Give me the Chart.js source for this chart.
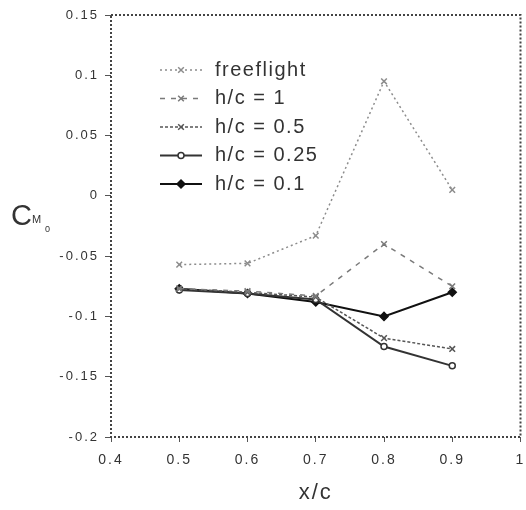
<!DOCTYPE html>
<html><head><meta charset="utf-8">
<style>html,body{margin:0;padding:0;background:#fff}canvas{display:block}</style>
<script src="https://cdn.jsdelivr.net/npm/chart.js@4/dist/chart.umd.min.js"></script>
</head><body>
<canvas id="c" width="526" height="510"></canvas>
<script>
const xPositions = [0.5, 0.6, 0.7, 0.8, 0.9];
const seriesNames = ['freeflight', 'h/c = 1', 'h/c = 0.5', 'h/c = 0.25', 'h/c = 0.1'];
const freeflight = [-0.057, -0.056, -0.033, 0.095, 0.005];
const hc1 = [-0.077, -0.079, -0.083, -0.040, -0.075];
const hc05 = [-0.077, -0.080, -0.084, -0.118, -0.127];
const hc025 = [-0.078, -0.081, -0.086, -0.125, -0.141];
const hc01 = [-0.077, -0.081, -0.088, -0.100, -0.080];
const yTickValues = [0.15, 0.1, 0.05, 0, -0.05, -0.1, -0.15, -0.2];
const xTickValues = [0.4, 0.5, 0.6, 0.7, 0.8, 0.9, 1];
const xTitle = 'x/c';

const toPts = arr => arr.map((v, i) => ({x: xPositions[i], y: v}));
const styles = [
  {color: '#8c8c8c', dash: [2, 3], width: 1.5, point: 'crossRot', r: 4, fill: '#8c8c8c'},
  {color: '#7a7a7a', dash: [5, 6], width: 1.5, point: 'crossRot', r: 4, fill: '#7a7a7a'},
  {color: '#555', dash: [3, 2], width: 1.5, point: 'crossRot', r: 4, fill: '#555'},
  {color: '#333', dash: [], width: 2, point: 'circle', r: 3, fill: '#fff'},
  {color: '#111', dash: [], width: 2, point: 'rectRot', r: 4, fill: '#111'}
];
const seriesData = [freeflight, hc1, hc05, hc025, hc01];

const datasets = seriesData.map((d, i) => ({
  label: seriesNames[i],
  data: toPts(d),
  borderColor: styles[i].color,
  backgroundColor: styles[i].fill,
  borderDash: styles[i].dash,
  borderWidth: styles[i].width,
  pointStyle: styles[i].point,
  pointRadius: styles[i].r,
  pointBorderWidth: 1.5,
  pointBorderColor: styles[i].color,
  pointBackgroundColor: styles[i].fill,
  tension: 0,
  fill: false
}));

const spacingPlugin = {
  id: 'spacing',
  beforeUpdate(chart) { chart.ctx.letterSpacing = '2px'; },
  beforeDraw(chart) { chart.ctx.letterSpacing = '2px'; }
};

const framePlugin = {
  id: 'frame',
  afterDatasetsDraw(chart) {
    const {ctx, chartArea: a} = chart;
    ctx.save();
    ctx.setLineDash([2, 2]);
    ctx.strokeStyle = '#444';
    ctx.lineWidth = 2;
    ctx.strokeRect(a.left, a.top, a.right - a.left, a.bottom - a.top);
    ctx.restore();

    // legend
    ctx.save();
    chart.data.datasets.forEach((ds, i) => {
      const y = 70 + i * 28.5;
      ctx.setLineDash(ds.borderDash);
      ctx.strokeStyle = ds.borderColor;
      ctx.lineWidth = ds.borderWidth;
      ctx.beginPath(); ctx.moveTo(160, y); ctx.lineTo(202, y); ctx.stroke();
      ctx.setLineDash([]);
      ctx.fillStyle = ds.pointBackgroundColor;
      ctx.strokeStyle = ds.pointBorderColor;
      ctx.lineWidth = 1.5;
      Chart.helpers.drawPoint(ctx, {pointStyle: ds.pointStyle, radius: ds.pointRadius, rotation: 0, borderWidth: 1.5}, 181, y);
      ctx.letterSpacing = '1.5px';
      ctx.font = '20px "Liberation Sans", Arial, sans-serif';
      ctx.fillStyle = '#333';
      ctx.textBaseline = 'middle';
      ctx.textAlign = 'left';
      ctx.fillText(ds.label, 215, y);
    });
    ctx.restore();

    // y axis label C_{M_0}
    ctx.save();
    ctx.fillStyle = '#333';
    ctx.textBaseline = 'alphabetic';
    ctx.textAlign = 'left';
    ctx.letterSpacing = '0px';
    ctx.font = '29px "Liberation Sans", Arial, sans-serif';
    ctx.fillText('C', 11, 225);
    ctx.font = '11px "Liberation Sans", Arial, sans-serif';
    ctx.fillText('M', 32, 223);
    ctx.font = '9px "Liberation Sans", Arial, sans-serif';
    ctx.fillText('0', 45, 232);
    ctx.restore();
  }
};

new Chart(document.getElementById('c'), {
  type: 'line',
  data: {datasets},
  plugins: [spacingPlugin, framePlugin],
  options: {
    responsive: false,
    animation: false,
    layout: {padding: {top: 15, right: 4, left: 0, bottom: 0}},
    plugins: {legend: {display: false}, tooltip: {enabled: false}},
    scales: {
      x: {
        type: 'linear', min: 0.4, max: 1,
        afterFit: s => { s.height = 73; s.paddingRight = 0; s.paddingLeft = 0; },
        afterBuildTicks: s => { s.ticks = xTickValues.map(v => ({value: v})); },
        ticks: {
          color: '#333', font: {size: 14, family: '"Liberation Sans", Arial'},
          padding: 10, maxRotation: 0,
          callback: v => String(Math.round(v * 10) / 10)
        },
        grid: {drawOnChartArea: false, drawTicks: true, tickLength: 5, color: '#555'},
        border: {display: false},
        title: {display: true, text: xTitle, color: '#333', font: {size: 22, family: '"Liberation Sans", Arial'}, padding: {top: 8}}
      },
      y: {
        type: 'linear', min: -0.2, max: 0.15,
        afterFit: s => { s.width = 111; s.paddingTop = 0; s.paddingBottom = 0; },
        afterBuildTicks: s => { s.ticks = yTickValues.map(v => ({value: v})); },
        ticks: {
          color: '#333', font: {size: 13, family: '"Liberation Sans", Arial'},
          padding: 6,
          callback: v => String(Math.round(v * 100) / 100)
        },
        grid: {drawOnChartArea: false, drawTicks: true, tickLength: 6, color: '#555'},
        border: {display: false}
      }
    }
  }
});
</script>
</body></html>
